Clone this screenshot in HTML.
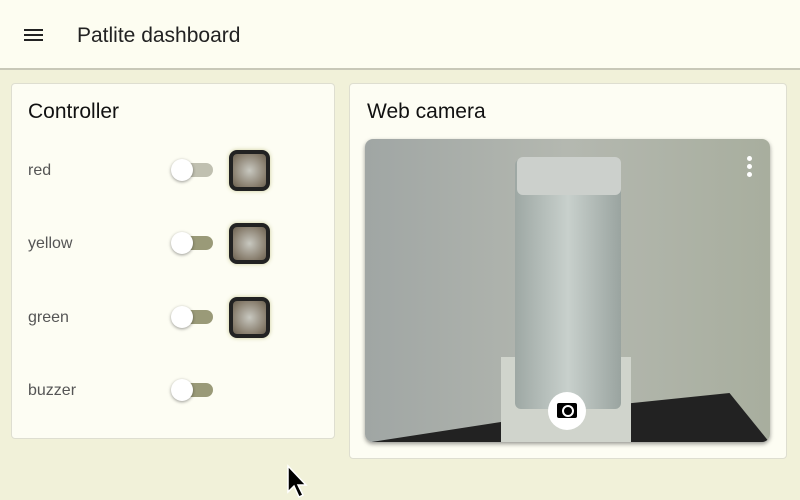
<!DOCTYPE html>
<html><head><style>
body{margin:0;width:800px;height:500px;background:#f1f1d9;font-family:"Liberation Sans",sans-serif;position:relative;overflow:hidden}
.hdr{position:absolute;left:0;top:0;width:800px;height:68px;background:#fdfdf1;border-bottom:2px solid #c8c8b8}
.card{position:absolute;background:#fdfdf3;border:1px solid #deded0;border-radius:4px}
.t{position:absolute;font-size:21px;color:#111}
.lbl{position:absolute;left:28px;font-size:16px;color:#555}
.trk{position:absolute;left:175px;width:38px;height:14px;border-radius:7px;background:#9a9a78}
.th{position:absolute;left:171px;width:22px;height:22px;border-radius:50%;background:#fff;box-shadow:0 1px 3px rgba(0,0,0,.4)}
.lamp{position:absolute;left:229px;width:33px;height:33px;border:4px solid #222;border-radius:8px;background:radial-gradient(circle,#c8c8c0 0%,#8a8070 70%,#6a6050 100%);box-shadow:0 0 4px #cc9}
</style></head><body>
<div class="hdr">
<div style="position:absolute;left:24px;top:29px;width:19px;height:2px;background:#222;box-shadow:0 5px 0 #222,0 10px 0 #222"></div>
<div style="position:absolute;left:77px;top:24px;font-size:21px;color:#222">Patlite dashboard</div>
</div>
<div class="card" style="left:11px;top:83px;width:322px;height:354px">
</div>
<div class="t" style="left:28px;top:100px">Controller</div>
<div class="lbl" style="top:162px">red</div>
<div class="trk" style="top:163px;background:#c0c0b0"></div><div class="th" style="top:159px"></div>
<div class="lamp" style="top:150px"></div>
<div class="lbl" style="top:235px">yellow</div>
<div class="trk" style="top:236px"></div><div class="th" style="top:232px"></div>
<div class="lamp" style="top:223px"></div>
<div class="lbl" style="top:309px">green</div>
<div class="trk" style="top:310px"></div><div class="th" style="top:306px"></div>
<div class="lamp" style="top:297px"></div>
<div class="lbl" style="top:382px">buzzer</div>
<div class="trk" style="top:383px"></div><div class="th" style="top:379px"></div>
<div class="card" style="left:349px;top:83px;width:436px;height:374px"></div>
<div class="t" style="left:367px;top:100px">Web camera</div>
<div style="position:absolute;left:365px;top:139px;width:405px;height:303px;border-radius:8px;overflow:hidden;background:linear-gradient(90deg,#a0a6a4,#b4b8b0 50%,#a8ae9e);box-shadow:0 2px 4px rgba(0,0,0,.4)">
<div style="position:absolute;left:0;top:254px;width:405px;height:50px;background:#222;clip-path:polygon(0 100%,60% 25%,90% 0,100% 100%)"></div>
<div style="position:absolute;left:136px;top:218px;width:130px;height:90px;background:#d0d4cc"></div>
<div style="position:absolute;left:150px;top:20px;width:106px;height:250px;background:linear-gradient(90deg,#9ea8a4,#c8d0cc 50%,#9aa4a0);border-radius:6px"></div>
<div style="position:absolute;left:152px;top:18px;width:104px;height:38px;background:#ccd0cc;border-radius:6px"></div>
<div style="position:absolute;left:183px;top:253px;width:38px;height:38px;border-radius:50%;background:#fff"></div>
<div style="position:absolute;left:192px;top:264px;width:20px;height:15px;background:#000;border-radius:2px"></div>
<div style="position:absolute;left:197px;top:266px;width:8px;height:8px;border-radius:50%;border:2px solid #fff"></div>
<div style="position:absolute;left:382px;top:17px;width:5px;height:5px;border-radius:50%;background:#fff;box-shadow:0 8px 0 #fff,0 16px 0 #fff"></div>
</div>
<svg style="position:absolute;left:286px;top:464px" width="24" height="36"><polygon points="2,2 2,28 8,22 13,33 17,31 12,21 20,21" fill="#000" stroke="#fff" stroke-width="1.5"/></svg>
</body></html>
